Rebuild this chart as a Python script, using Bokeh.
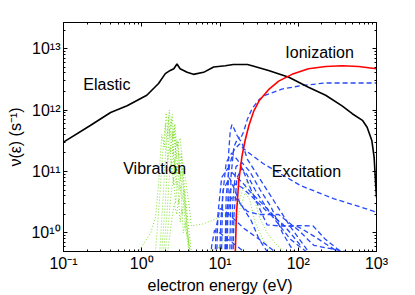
from bokeh.plotting import figure
from bokeh.models import FixedTicker, LogAxis
from bokeh.embed import file_html
from bokeh.resources import INLINE
from bokeh.core.properties import value

# ---------------- data ----------------
# Elastic momentum-transfer frequency
elastic_E = [0.1, 0.22, 0.40, 0.65, 1.16, 1.64, 2.0, 2.31, 2.57, 2.82, 3.09, 3.8, 4.57,
             6.17, 8.3, 11.7, 14.8, 22.4, 25.7, 41.7, 75.9, 135, 224, 363, 490, 661,
             759, 871, 933, 977, 1000]
elastic_v = [3.0e11, 5.6e11, 9.1e11, 1.17e12, 1.74e12, 2.7e12, 3.9e12, 4.4e12, 4.7e12,
             5.6e12, 4.7e12, 4.1e12, 3.8e12, 4.1e12, 5.0e12, 5.25e12, 5.5e12, 5.5e12,
             5.25e12, 4.4e12, 3.4e12, 2.34e12, 1.74e12, 1.17e12, 8.7e11, 6.8e11, 5.25e11,
             3.2e11, 1.7e11, 6.0e10, 3.8e10]

# Ionization
ion_E = [15.6, 15.7, 16.2, 17.4, 19.1, 20.9, 23.4, 26.9, 31.6, 41.7, 56.2, 83.2, 135,
         224, 363, 589, 1000]
ion_v = [1.0e9, 5.0e9, 2.0e10, 7.1e10, 1.78e11, 3.16e11, 5.6e11, 9.5e11, 1.41e12,
         2.14e12, 2.95e12, 3.8e12, 4.7e12, 5.1e12, 5.25e12, 5.1e12, 4.7e12]

# Excitation (several electronic states)
exc_E = [
    [12.3, 12.9, 13.5, 14.2, 15.1, 16.6, 18.2, 20, 22.4, 25.7, 31.6, 38, 61.7, 112, 224, 1000],
    [11.5, 12.0, 13.2, 15.1, 17.8, 20, 35.5, 107, 282, 1000],
    [9.0, 9.4, 10.5, 12.6, 15, 20, 25, 40, 63, 100, 158, 316],
    [10.4, 10.8, 12, 14.1, 17, 20, 25, 32, 40, 60, 100, 155, 220, 347, 450],
    [7.6, 7.8, 8.5, 10, 12.6, 16, 20, 25],
    [8.6, 8.9, 10, 12, 15.8, 20, 31.6, 50],
    [11.6, 12, 13.5, 15.8, 19, 25.1, 39.8, 63.1, 79.4, 110],
    [13.3, 13.8, 15, 17, 19, 22.4, 31.6, 50.1, 79.4, 126, 170],
    [14.6, 15.1, 16.5, 19.1, 22, 28.2, 44.7, 79.4, 126, 180],
    [11.9, 12.3, 13.5, 15.1, 18, 22.4, 31.6, 56.2, 100, 158, 251, 398, 500],
    [9.9, 10.2, 11, 13.2, 15, 17.8, 25.1, 31.6, 40],
    [14, 14.5, 16, 19, 24, 32.7, 44.7, 63, 80, 95],
]
exc_v = [
    [3e9, 2e11, 4.5e11, 5.8e11, 5e11, 3.8e11, 3.4e11, 4.4e11, 7.1e11, 1.05e12, 1.48e12,
     1.74e12, 2.19e12, 2.51e12, 2.75e12, 2.75e12],
    [3e9, 4e10, 1.26e11, 2.24e11, 2.8e11, 2.34e11, 1.35e11, 5.9e10, 3.63e10, 2.19e10],
    [3e9, 2e10, 8e10, 1.12e11, 9e10, 6.3e10, 4.5e10, 2.5e10, 1.32e10, 1.26e10, 8.9e9, 5e9],
    [3e9, 4e10, 1.4e11, 2e11, 1.5e11, 1e11, 5e10, 2.5e10, 1.35e10, 1.3e10, 1.32e10, 1.3e10,
     8e9, 5e9, 3.5e9],
    [3e9, 6e9, 1.1e10, 1.0e10, 7.9e9, 6.3e9, 5e9, 3.5e9],
    [3e9, 1.2e10, 2.5e10, 2.2e10, 1.6e10, 1.2e10, 7.9e9, 5e9],
    [3e9, 2e10, 5e10, 6.3e10, 5.5e10, 4e10, 2.24e10, 1.4e10, 1e10, 6e9],
    [3e9, 8e10, 2.5e11, 3.55e11, 3e11, 1.58e11, 7.9e10, 3.16e10, 1.26e10, 5.6e9, 3.5e9],
    [3e9, 2e10, 8e10, 1.12e11, 9e10, 5e10, 2e10, 7.9e9, 5e9, 3.5e9],
    [3e9, 1.5e10, 3.5e10, 3.98e10, 3e10, 2.24e10, 2e10, 2e10, 1.12e10, 6.3e9, 5.6e9, 5e9, 3.5e9],
    [3e9, 1.5e10, 5e10, 7.9e10, 5.5e10, 3.16e10, 1.58e10, 7.9e9, 5e9],
    [3e9, 3e10, 1.2e11, 1.4e11, 1e11, 5e10, 2.7e10, 1e10, 6e9, 4e9],
]

# Vibrational excitation
vib_E = [
    [0.8, 1.0, 1.3, 1.5, 1.65, 1.8, 1.95, 2.05, 2.15, 2.25, 2.35, 2.45, 2.55, 2.65, 2.8,
     2.95, 3.1, 3.3, 3.6, 4.0, 4.3, 6, 9, 13, 16, 19, 22, 26, 32, 40, 50, 65],
    [1.5, 1.7, 1.85, 2.0, 2.1, 2.2, 2.3, 2.4, 2.5, 2.6, 2.7, 2.85, 3.0, 3.2, 3.5, 3.9, 4.3],
    [1.7, 1.9, 2.05, 2.15, 2.25, 2.35, 2.45, 2.55, 2.65, 2.75, 2.9, 3.05, 3.2, 3.4, 3.7, 4.0],
    [1.8, 2.0, 2.15, 2.3, 2.4, 2.5, 2.6, 2.7, 2.8, 2.95, 3.1, 3.25, 3.45, 3.7, 4.1],
    [1.9, 2.1, 2.25, 2.4, 2.55, 2.65, 2.75, 2.9, 3.0, 3.15, 3.3, 3.5, 3.8, 4.2],
    [2.0, 2.2, 2.4, 2.55, 2.7, 2.85, 3.0, 3.15, 3.3, 3.45, 3.6, 3.9, 4.3],
    [2.1, 2.4, 2.6, 2.8, 2.95, 3.1, 3.25, 3.4, 3.6, 3.9, 4.4],
    [5, 10, 15, 18, 21, 24, 28, 35, 45, 60],
]
vib_v = [
    [4e9, 6e9, 1.0e10, 1.8e10, 7e10, 4e11, 2.5e11, 9e11, 4e11, 1.0e12, 5e11, 8.5e11, 3.5e11,
     6e11, 2.5e11, 3e11, 3.5e11, 1.5e11, 8e10, 3e10, 1.3e10, 1.4e10, 1.7e10, 2.1e10, 2.4e10,
     4.5e10, 7e10, 4.5e10, 1.8e10, 1e10, 7e9, 5e9],
    [5e9, 4e10, 2e11, 6e11, 3e11, 8e11, 3.5e11, 7e11, 3e11, 5.5e11, 2.5e11, 3.2e11, 1.8e11,
     2e11, 6e10, 1.5e10, 5e9],
    [5e9, 5e10, 3e11, 1.5e11, 5e11, 2e11, 4.5e11, 1.8e11, 4e11, 1.6e11, 3e11, 1.2e11, 1.8e11,
     6e10, 2e10, 6e9],
    [5e9, 3e10, 1.5e11, 2.5e11, 1e11, 2.8e11, 1e11, 2.5e11, 9e10, 2e11, 7e10, 1.2e11, 4e10,
     1.5e10, 5e9],
    [5e9, 2e10, 8e10, 1.5e11, 6e10, 1.6e11, 6e10, 1.4e11, 5e10, 1e11, 3.5e10, 5e10, 1.2e10, 4e9],
    [5e9, 1.5e10, 5e10, 8e10, 3e10, 7e10, 3e10, 6e10, 2e10, 3.5e10, 1.2e10, 8e9, 4e9],
    [4e9, 1.5e10, 3e10, 2e10, 3.5e10, 1.5e10, 2.5e10, 1e10, 1.5e10, 6e9, 4e9],
    [4e9, 6e9, 1.2e10, 2.5e10, 4.5e10, 3.5e10, 1.5e10, 8e9, 5e9, 3e9],
]

# Annotations
label_text = ["Elastic", "Ionization", "Vibration", "Excitation"]
label_E = [0.179, 68.4, 0.58, 45.9]
label_v = [2.6e12, 8.6e12, 1.1e11, 1.0e11]

# Axis ticks
x_ticks = [0.1, 1, 10, 100, 1000]
x_tick_labels = ["10\u207b\u00b9", "10\u2070", "10\u00b9", "10\u00b2", "10\u00b3"]
y_ticks = [1e10, 1e11, 1e12, 1e13]
y_tick_labels = ["10\u00b9\u2070", "10\u00b9\u00b9", "10\u00b9\u00b2", "10\u00b9\u00b3"]

# ---------------- figure ----------------
FONT = "Liberation Sans"
FS = "16px"

p = figure(x_axis_type="log", y_axis_type="log",
           x_range=(0.1, 1000), y_range=(5e9, 2.65e13),
           frame_width=313, frame_height=229,
           min_border_left=63, min_border_right=39, min_border_top=22, min_border_bottom=44,
           toolbar_location=None, output_backend="svg",
           background_fill_color="white", border_fill_color="white")
p.grid.visible = False
p.outline_line_color = "black"
p.outline_line_width = 1

x_minor = [m * 10.0 ** k for k in range(-1, 3) for m in range(2, 10)]
y_minor = [m * 10.0 ** k for k in range(9, 14) for m in range(2, 10)]


def style_axis(ax, ticks, minor, labels, show_labels=True):
    ax.ticker = FixedTicker(ticks=ticks, minor_ticks=minor)
    ax.major_tick_in = 4
    ax.major_tick_out = 0
    ax.minor_tick_in = 2
    ax.minor_tick_out = 0
    ax.axis_line_color = "black"
    ax.major_tick_line_color = "black"
    ax.minor_tick_line_color = "black"
    if show_labels:
        ax.major_label_overrides = {t: l for t, l in zip(ticks, labels)}
        ax.major_label_text_font = FONT
        ax.major_label_text_font_size = FS
        ax.major_label_text_color = "black"
        ax.major_label_standoff = 3
    else:
        ax.major_label_text_font_size = "1px"
        ax.major_label_text_alpha = 0
        ax.major_label_standoff = 0


style_axis(p.xaxis[0], x_ticks, x_minor, x_tick_labels)
style_axis(p.yaxis[0], y_ticks, y_minor, y_tick_labels)
p.xaxis[0].axis_label = "electron energy (eV)"
p.yaxis[0].axis_label = "\u03bd(\u03b5) (s\u207b\u00b9)"
for ax in (p.xaxis[0], p.yaxis[0]):
    ax.axis_label_text_font = FONT
    ax.axis_label_text_font_size = FS
    ax.axis_label_text_font_style = "normal"
    ax.axis_label_text_color = "black"
p.xaxis[0].axis_label_standoff = 2
p.yaxis[0].axis_label_standoff = 4

top_ax = LogAxis()
right_ax = LogAxis()
style_axis(top_ax, x_ticks, x_minor, x_tick_labels, show_labels=False)
style_axis(right_ax, y_ticks, y_minor, y_tick_labels, show_labels=False)
p.add_layout(top_ax, "above")
p.add_layout(right_ax, "right")

# ---------------- curves ----------------
p.multi_line(xs=vib_E, ys=vib_v, line_color="#7ee02a", line_width=1, line_dash="1 2")
p.multi_line(xs=exc_E, ys=exc_v, line_color="#2449ff", line_width=1.3, line_dash="5 3")
p.line(elastic_E, elastic_v, line_color="black", line_width=1.6)
p.line(ion_E, ion_v, line_color="#ff0000", line_width=1.6)

p.text(x=label_E, y=label_v, text=label_text, text_font=value(FONT), text_font_size=FS,
       text_color="black", text_align="left", text_baseline="alphabetic")

open("out.html", "w").write(file_html(p, INLINE))
